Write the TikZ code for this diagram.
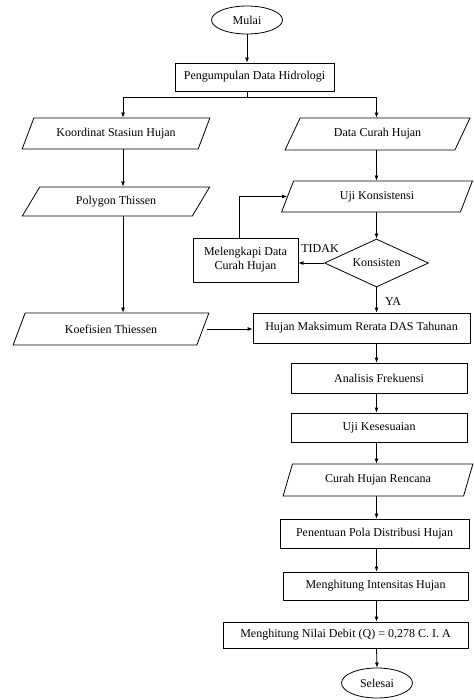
\documentclass[tikz,border=0pt]{standalone}
\usepackage{fontspec}
\setmainfont{Liberation Serif}
\usetikzlibrary{shapes.geometric,arrows.meta}
\begin{document}
\begin{tikzpicture}[x=1pt,y=-1pt,line width=0.8pt,
  every node/.style={font=\fontsize{12}{14}\selectfont},
  box/.style={draw, rectangle, inner sep=0pt, align=center},
  term/.style={draw, ellipse, inner sep=0pt, minimum width=71pt, minimum height=28pt},
  para/.style 2 args={draw, trapezium, trapezium stretches=true, inner sep=0pt,
     trapezium left angle=#1, trapezium right angle=#2},
  decision/.style={draw, diamond, inner sep=0pt, aspect=2.17, minimum width=104pt, minimum height=48pt},
  lbl/.style={inner sep=0pt},
  arr/.style={-{Latex[length=5pt,width=4pt]}}]
\useasboundingbox (0,0) rectangle (473,700);
\coordinate (lcol) at (123,0);
\coordinate (spine) at (376.5,0);

\node[term] (mulai) at (247,20) {Mulai};
\node[box, minimum width=159pt, minimum height=28pt] (peng) at (254.5,77) {Pengumpulan Data Hidrologi};
\node[para={52}{128}, minimum width=188pt, minimum height=31pt] (kord) at (116,133.5) {Koordinat Stasiun Hujan};
\node[para={52}{128}, minimum width=185pt, minimum height=32pt] (dch) at (377.5,134) {Data Curah Hujan};
\node[para={50}{130}, minimum width=188pt, minimum height=29pt] (poly) at (116,201.5) {Polygon Thissen};
\node[para={63}{117}, minimum width=192pt, minimum height=31pt] (uji) at (377,196.5) {Uji Konsistensi};
\node[box, minimum width=105pt, minimum height=44pt] (mel) at (245.5,260) {Melengkapi Data\\Curah Hujan};
\node[decision] (kons) at (376.5,263) {Konsisten};
\node[lbl] (tidak) at (320,249) {TIDAK};
\node[para={53}{127}, minimum width=196pt, minimum height=32pt] (koef) at (111,329) {Koefisien Thiessen};
\node[box, minimum width=217pt, minimum height=30pt] (hm) at (361.5,328) {Hujan Maksimum Rerata DAS Tahunan};
\node[lbl] (ya) at (393,302) {YA};
\node[box, minimum width=176pt, minimum height=30pt] (af) at (379,378) {Analisis Frekuensi};
\node[box, minimum width=176pt, minimum height=29pt] (uk) at (379,427.5) {Uji Kesesuaian};
\node[para={62}{118}, minimum width=190pt, minimum height=32pt] (chr) at (378,480) {Curah Hujan Rencana};
\node[box, minimum width=189pt, minimum height=29pt] (pp) at (374.5,533.5) {Penentuan Pola Distribusi Hujan};
\node[box, minimum width=185pt, minimum height=28pt] (mi) at (375.5,586) {Menghitung Intensitas Hujan};
\node[box, minimum width=245pt, minimum height=26pt] (md) at (345.5,635) {Menghitung Nilai Debit (Q) = 0,278 C. I. A};
\node[term, minimum height=30pt] (sel) at (377,683) {Selesai};

\draw[arr] (mulai.south) -- (mulai.south |- peng.north);
\draw (peng.south -| mulai) -- ++(0,6) coordinate (split);
\draw[arr] (split) -| (kord.north -| lcol);
\draw[arr] (split) -| (dch.north -| spine);
\draw[arr] (kord.south -| lcol) -- (poly.north -| lcol);
\draw[arr] (poly.south -| lcol) -- (koef.north -| lcol);
\draw[arr] (dch.south -| spine) -- (uji.north -| spine);
\draw[arr] (uji.south -| spine) -- (kons.north);
\draw[arr] (kons.west) -- (kons.west -| mel.east);
\draw[arr] ([xshift=-6pt]mel.north) |- (uji.west);
\draw[arr] (kons.south) -- (kons.south |- hm.north);
\draw[arr] ([xshift=4pt]koef.east) -- (koef.east -| hm.west);
\draw[arr] (hm.south -| spine) -- (af.north -| spine);
\draw[arr] (af.south -| spine) -- (uk.north -| spine);
\draw[arr] (uk.south -| spine) -- (chr.north -| spine);
\draw[arr] (chr.south -| spine) -- (pp.north -| spine);
\draw[arr] (pp.south -| spine) -- (mi.north -| spine);
\draw[arr] (mi.south -| spine) -- (md.north -| spine);
\draw[arr] (md.south -| spine) -- (sel.north);
\end{tikzpicture}
\end{document}
